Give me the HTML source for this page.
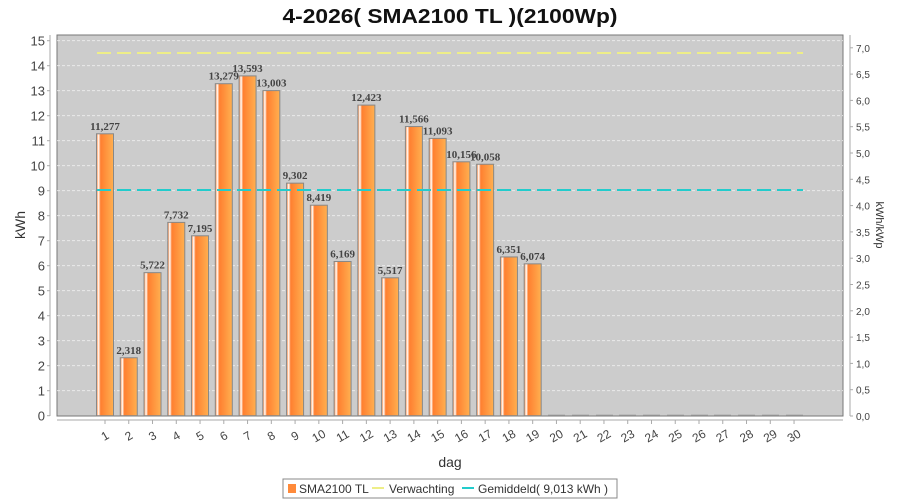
<!DOCTYPE html>
<html><head><meta charset="utf-8"><style>body{margin:0;background:#fff}svg{display:block}</style></head><body>
<svg width="900" height="500" xmlns="http://www.w3.org/2000/svg" font-family="Liberation Sans, sans-serif">
<defs>
<linearGradient id="g" x1="0" x2="1" y1="0" y2="0">
<stop offset="0" stop-color="#ff7f30"/><stop offset="0.12" stop-color="#fff"/><stop offset="0.24" stop-color="#ff7f30"/><stop offset="1" stop-color="#ffb050"/>
</linearGradient>
</defs>
<text x="450" y="23" text-anchor="middle" font-size="20" font-weight="bold" fill="#111" textLength="335" lengthAdjust="spacingAndGlyphs">4-2026( SMA2100 TL )(2100Wp)</text>
<rect x="57" y="35" width="786" height="381" fill="#cccccc" stroke="#777"/>
<g stroke="#eee" stroke-dasharray="3,2" stroke-width="0.8">
<line x1="57" x2="843" y1="390.7" y2="390.7"/><line x1="57" x2="843" y1="365.7" y2="365.7"/><line x1="57" x2="843" y1="340.7" y2="340.7"/><line x1="57" x2="843" y1="315.7" y2="315.7"/><line x1="57" x2="843" y1="290.7" y2="290.7"/><line x1="57" x2="843" y1="265.7" y2="265.7"/><line x1="57" x2="843" y1="240.7" y2="240.7"/><line x1="57" x2="843" y1="215.7" y2="215.7"/><line x1="57" x2="843" y1="190.7" y2="190.7"/><line x1="57" x2="843" y1="165.7" y2="165.7"/><line x1="57" x2="843" y1="140.7" y2="140.7"/><line x1="57" x2="843" y1="115.7" y2="115.7"/><line x1="57" x2="843" y1="90.7" y2="90.7"/><line x1="57" x2="843" y1="65.7" y2="65.7"/><line x1="57" x2="843" y1="40.7" y2="40.7"/>
</g>
<g font-size="13" fill="#444" text-anchor="end">
<text x="45" y="420.7">0</text><text x="45" y="395.7">1</text><text x="45" y="370.7">2</text><text x="45" y="345.7">3</text><text x="45" y="320.7">4</text><text x="45" y="295.7">5</text><text x="45" y="270.7">6</text><text x="45" y="245.7">7</text><text x="45" y="220.7">8</text><text x="45" y="195.7">9</text><text x="45" y="170.7">10</text><text x="45" y="145.7">11</text><text x="45" y="120.7">12</text><text x="45" y="95.7">13</text><text x="45" y="70.7">14</text><text x="45" y="45.7">15</text>
</g>
<g stroke="#aaa">
<line x1="47" x2="50" y1="415.7" y2="415.7"/><line x1="47" x2="50" y1="390.7" y2="390.7"/><line x1="47" x2="50" y1="365.7" y2="365.7"/><line x1="47" x2="50" y1="340.7" y2="340.7"/><line x1="47" x2="50" y1="315.7" y2="315.7"/><line x1="47" x2="50" y1="290.7" y2="290.7"/><line x1="47" x2="50" y1="265.7" y2="265.7"/><line x1="47" x2="50" y1="240.7" y2="240.7"/><line x1="47" x2="50" y1="215.7" y2="215.7"/><line x1="47" x2="50" y1="190.7" y2="190.7"/><line x1="47" x2="50" y1="165.7" y2="165.7"/><line x1="47" x2="50" y1="140.7" y2="140.7"/><line x1="47" x2="50" y1="115.7" y2="115.7"/><line x1="47" x2="50" y1="90.7" y2="90.7"/><line x1="47" x2="50" y1="65.7" y2="65.7"/><line x1="47" x2="50" y1="40.7" y2="40.7"/>
<line x1="850" x2="853" y1="416" y2="416"/><line x1="850" x2="853" y1="389.7" y2="389.7"/><line x1="850" x2="853" y1="363.4" y2="363.4"/><line x1="850" x2="853" y1="337.1" y2="337.1"/><line x1="850" x2="853" y1="310.8" y2="310.8"/><line x1="850" x2="853" y1="284.5" y2="284.5"/><line x1="850" x2="853" y1="258.2" y2="258.2"/><line x1="850" x2="853" y1="231.9" y2="231.9"/><line x1="850" x2="853" y1="205.6" y2="205.6"/><line x1="850" x2="853" y1="179.3" y2="179.3"/><line x1="850" x2="853" y1="153" y2="153"/><line x1="850" x2="853" y1="126.7" y2="126.7"/><line x1="850" x2="853" y1="100.4" y2="100.4"/><line x1="850" x2="853" y1="74.1" y2="74.1"/><line x1="850" x2="853" y1="47.8" y2="47.8"/>
</g>
<g font-size="10" fill="#444">
<text x="856" y="420">0,0</text><text x="856" y="393.7">0,5</text><text x="856" y="367.4">1,0</text><text x="856" y="341.1">1,5</text><text x="856" y="314.8">2,0</text><text x="856" y="288.5">2,5</text><text x="856" y="262.2">3,0</text><text x="856" y="235.9">3,5</text><text x="856" y="209.6">4,0</text><text x="856" y="183.3">4,5</text><text x="856" y="157">5,0</text><text x="856" y="130.7">5,5</text><text x="856" y="104.4">6,0</text><text x="856" y="78.1">6,5</text><text x="856" y="51.8">7,0</text>
</g>
<line x1="50" y1="35" x2="50" y2="416" stroke="#aaa"/>
<line x1="850" y1="35" x2="850" y2="416" stroke="#aaa"/>
<line x1="57" y1="420" x2="843" y2="420" stroke="#aaa"/>
<line x1="97" y1="53" x2="803" y2="53" stroke="#eeee88" stroke-width="2" stroke-dasharray="14,6"/>
<g fill="url(#g)" stroke="#888">
<rect x="96.5" y="133.8" width="17" height="281.9"/>
<rect x="120.26" y="357.75" width="17" height="57.95"/>
<rect x="144.02" y="272.65" width="17" height="143.05"/>
<rect x="167.78" y="222.4" width="17" height="193.3"/>
<rect x="191.54" y="235.8" width="17" height="179.9"/>
<rect x="215.3" y="83.7" width="17" height="332"/>
<rect x="239.06" y="75.9" width="17" height="339.8"/>
<rect x="262.82" y="90.6" width="17" height="325.1"/>
<rect x="286.58" y="183.15" width="17" height="232.55"/>
<rect x="310.34" y="205.2" width="17" height="210.5"/>
<rect x="334.1" y="261.5" width="17" height="154.2"/>
<rect x="357.86" y="105.1" width="17" height="310.6"/>
<rect x="381.62" y="277.8" width="17" height="137.9"/>
<rect x="405.38" y="126.55" width="17" height="289.15"/>
<rect x="429.14" y="138.4" width="17" height="277.3"/>
<rect x="452.9" y="161.8" width="17" height="253.9"/>
<rect x="476.66" y="164.25" width="17" height="251.45"/>
<rect x="500.42" y="256.95" width="17" height="158.75"/>
<rect x="524.18" y="263.85" width="17" height="151.85"/>
</g>
<g stroke="#aaa">
<line x1="548" x2="565" y1="415" y2="415"/><line x1="572" x2="589" y1="415" y2="415"/><line x1="596" x2="613" y1="415" y2="415"/><line x1="619" x2="636" y1="415" y2="415"/><line x1="643" x2="660" y1="415" y2="415"/><line x1="667" x2="684" y1="415" y2="415"/><line x1="691" x2="708" y1="415" y2="415"/><line x1="714" x2="731" y1="415" y2="415"/><line x1="738" x2="755" y1="415" y2="415"/><line x1="762" x2="779" y1="415" y2="415"/><line x1="786" x2="803" y1="415" y2="415"/>
</g>
<g font-size="11" font-weight="bold" font-family="Liberation Serif, serif" fill="#444" text-anchor="middle">
<text x="105" y="129.8">11,277</text><text x="128.76" y="353.75">2,318</text><text x="152.52" y="268.65">5,722</text><text x="176.28" y="218.4">7,732</text><text x="200.04" y="231.8">7,195</text><text x="223.8" y="79.7">13,279</text><text x="247.56" y="71.9">13,593</text><text x="271.32" y="86.6">13,003</text><text x="295.08" y="179.15">9,302</text><text x="318.84" y="201.2">8,419</text><text x="342.6" y="257.5">6,169</text><text x="366.36" y="101.1">12,423</text><text x="390.12" y="273.8">5,517</text><text x="413.88" y="122.55">11,566</text><text x="437.64" y="134.4">11,093</text><text x="461.4" y="157.8">10,156</text><text x="485.16" y="160.25">10,058</text><text x="508.92" y="252.95">6,351</text><text x="532.68" y="259.85">6,074</text>
</g>
<line x1="97" y1="190" x2="803" y2="190" stroke="#22cccc" stroke-width="2" stroke-dasharray="14,6"/>
<g stroke="#aaa">
<line x1="105" x2="105" y1="420" y2="424"/><line x1="128.76" x2="128.76" y1="420" y2="424"/><line x1="152.52" x2="152.52" y1="420" y2="424"/><line x1="176.28" x2="176.28" y1="420" y2="424"/><line x1="200.04" x2="200.04" y1="420" y2="424"/><line x1="223.8" x2="223.8" y1="420" y2="424"/><line x1="247.56" x2="247.56" y1="420" y2="424"/><line x1="271.32" x2="271.32" y1="420" y2="424"/><line x1="295.08" x2="295.08" y1="420" y2="424"/><line x1="318.84" x2="318.84" y1="420" y2="424"/><line x1="342.6" x2="342.6" y1="420" y2="424"/><line x1="366.36" x2="366.36" y1="420" y2="424"/><line x1="390.12" x2="390.12" y1="420" y2="424"/><line x1="413.88" x2="413.88" y1="420" y2="424"/><line x1="437.64" x2="437.64" y1="420" y2="424"/><line x1="461.4" x2="461.4" y1="420" y2="424"/><line x1="485.16" x2="485.16" y1="420" y2="424"/><line x1="508.92" x2="508.92" y1="420" y2="424"/><line x1="532.68" x2="532.68" y1="420" y2="424"/><line x1="556.44" x2="556.44" y1="420" y2="424"/><line x1="580.2" x2="580.2" y1="420" y2="424"/><line x1="603.96" x2="603.96" y1="420" y2="424"/><line x1="627.72" x2="627.72" y1="420" y2="424"/><line x1="651.48" x2="651.48" y1="420" y2="424"/><line x1="675.24" x2="675.24" y1="420" y2="424"/><line x1="699" x2="699" y1="420" y2="424"/><line x1="722.76" x2="722.76" y1="420" y2="424"/><line x1="746.52" x2="746.52" y1="420" y2="424"/><line x1="770.28" x2="770.28" y1="420" y2="424"/><line x1="794.04" x2="794.04" y1="420" y2="424"/>
</g>
<g font-size="12" fill="#444" text-anchor="middle">
<text x="105" y="440" transform="rotate(-30 105 436)">1</text><text x="128.76" y="440" transform="rotate(-30 128.76 436)">2</text><text x="152.52" y="440" transform="rotate(-30 152.52 436)">3</text><text x="176.28" y="440" transform="rotate(-30 176.28 436)">4</text><text x="200.04" y="440" transform="rotate(-30 200.04 436)">5</text><text x="223.8" y="440" transform="rotate(-30 223.8 436)">6</text><text x="247.56" y="440" transform="rotate(-30 247.56 436)">7</text><text x="271.32" y="440" transform="rotate(-30 271.32 436)">8</text><text x="295.08" y="440" transform="rotate(-30 295.08 436)">9</text><text x="318.84" y="440" transform="rotate(-30 318.84 436)">10</text><text x="342.6" y="440" transform="rotate(-30 342.6 436)">11</text><text x="366.36" y="440" transform="rotate(-30 366.36 436)">12</text><text x="390.12" y="440" transform="rotate(-30 390.12 436)">13</text><text x="413.88" y="440" transform="rotate(-30 413.88 436)">14</text><text x="437.64" y="440" transform="rotate(-30 437.64 436)">15</text><text x="461.4" y="440" transform="rotate(-30 461.4 436)">16</text><text x="485.16" y="440" transform="rotate(-30 485.16 436)">17</text><text x="508.92" y="440" transform="rotate(-30 508.92 436)">18</text><text x="532.68" y="440" transform="rotate(-30 532.68 436)">19</text><text x="556.44" y="440" transform="rotate(-30 556.44 436)">20</text><text x="580.2" y="440" transform="rotate(-30 580.2 436)">21</text><text x="603.96" y="440" transform="rotate(-30 603.96 436)">22</text><text x="627.72" y="440" transform="rotate(-30 627.72 436)">23</text><text x="651.48" y="440" transform="rotate(-30 651.48 436)">24</text><text x="675.24" y="440" transform="rotate(-30 675.24 436)">25</text><text x="699" y="440" transform="rotate(-30 699 436)">26</text><text x="722.76" y="440" transform="rotate(-30 722.76 436)">27</text><text x="746.52" y="440" transform="rotate(-30 746.52 436)">28</text><text x="770.28" y="440" transform="rotate(-30 770.28 436)">29</text><text x="794.04" y="440" transform="rotate(-30 794.04 436)">30</text>
</g>
<text x="25" y="225" font-size="14" fill="#333" text-anchor="middle" transform="rotate(-90 25 225)">kWh</text>
<text x="876" y="225" font-size="11" fill="#333" text-anchor="middle" transform="rotate(90 876 225)">kWh/kWp</text>
<text x="450" y="467" font-size="14" fill="#333" text-anchor="middle">dag</text>
<rect x="283" y="479" width="334" height="19" fill="#fff" stroke="#888"/>
<rect x="288" y="484" width="8" height="9" fill="#ff8a3a"/>
<text x="299" y="493" font-size="12" fill="#333">SMA2100 TL</text>
<line x1="372" y1="488" x2="384" y2="488" stroke="#eeee88" stroke-width="2"/>
<text x="389" y="493" font-size="12" fill="#333">Verwachting</text>
<line x1="462" y1="488" x2="474" y2="488" stroke="#22cccc" stroke-width="2"/>
<text x="478" y="493" font-size="12" fill="#333">Gemiddeld( 9,013 kWh )</text>
</svg>
</body></html>
